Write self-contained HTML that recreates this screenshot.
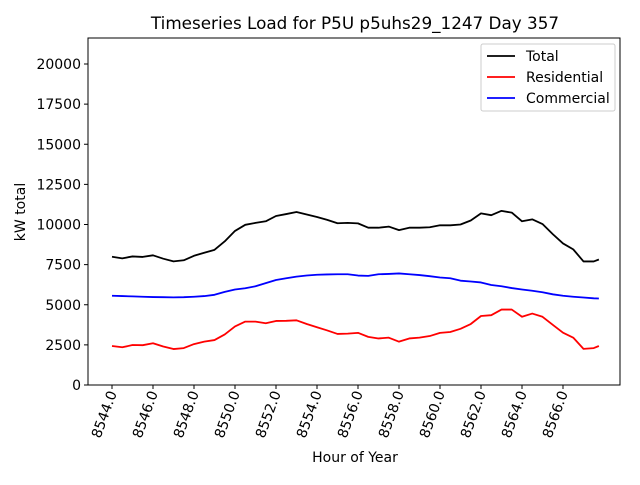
<!DOCTYPE html>
<html><head><meta charset="utf-8"><style>
body{margin:0;background:#fff;}
svg{font-family:"DejaVu Sans","Liberation Sans",sans-serif;}
</style></head><body>
<svg id="chart" width="640" height="480" xmlns="http://www.w3.org/2000/svg">
<rect width="640" height="480" fill="#fff"/>
<text x="355" y="29" font-size="16.8" text-anchor="middle">Timeseries Load for P5U p5uhs29_1247  Day 357</text>
<g id="plot"></g>
<text x="355" y="462" font-size="14" text-anchor="middle">Hour of Year</text>
<text transform="translate(25,212) rotate(-90)" font-size="14" text-anchor="middle">kW total</text>
<g>
<rect x="481" y="44" width="134" height="67" rx="2" fill="#fff" stroke="#ccc"/>
<line x1="487" y1="56" x2="515" y2="56" stroke="#000" stroke-width="1.8"/>
<text x="526" y="61" font-size="14">Total</text>
<line x1="487" y1="77" x2="515" y2="77" stroke="#f00" stroke-width="1.8"/>
<text x="526" y="82" font-size="14">Residential</text>
<line x1="487" y1="98" x2="515" y2="98" stroke="#00f" stroke-width="1.8"/>
<text x="526" y="103" font-size="14">Commercial</text>
</g>
</svg>
<script>
const hours=[8544,8544.5,8545,8545.5,8546,8546.5,8547,8547.5,8548,8548.5,8549,8549.5,8550,8550.5,8551,8551.5,8552,8552.5,8553,8553.5,8554,8554.5,8555,8555.5,8556,8556.5,8557,8557.5,8558,8558.5,8559,8559.5,8560,8560.5,8561,8561.5,8562,8562.5,8563,8563.5,8564,8564.5,8565,8565.5,8566,8566.5,8567,8567.5,8567.75];
const residential=[2430,2350,2490,2480,2600,2400,2240,2300,2550,2700,2800,3150,3650,3950,3950,3850,3990,4000,4030,3800,3600,3400,3180,3200,3250,3000,2900,2950,2700,2900,2950,3050,3250,3300,3500,3800,4300,4350,4700,4700,4250,4450,4250,3750,3260,2950,2250,2300,2430];
const commercial=[5560,5540,5520,5500,5480,5470,5460,5470,5500,5540,5620,5800,5950,6030,6150,6350,6540,6650,6750,6820,6870,6890,6900,6900,6820,6800,6900,6920,6950,6900,6850,6780,6700,6650,6500,6450,6390,6230,6150,6040,5950,5870,5780,5650,5560,5500,5450,5400,5390];
const total=[7990,7890,8010,7980,8080,7870,7700,7770,8050,8240,8420,8950,9600,9980,10100,10200,10530,10650,10780,10620,10470,10290,10080,10100,10070,9800,9800,9870,9650,9800,9800,9830,9950,9950,10000,10250,10690,10580,10850,10740,10200,10320,10030,9400,8820,8450,7700,7700,7820];
const yTicks=[0,2500,5000,7500,10000,12500,15000,17500,20000];
const xTicks=[8544,8546,8548,8550,8552,8554,8556,8558,8560,8562,8564,8566];
const L=88,R=620,T=38,B=385;
const xs=h=>112+(h-8544)*(563-112)/22;
const ys=v=>B-v*(B-64)/20000;
const NS="http://www.w3.org/2000/svg";
const g=document.getElementById('plot');
function mk(t,a){const e=document.createElementNS(NS,t);for(const k in a)e.setAttribute(k,a[k]);g.appendChild(e);return e;}
const frame=mk('rect',{x:L,y:T,width:R-L,height:B-T,fill:'none',stroke:'#000','stroke-width':1});


yTicks.forEach(v=>{const y=ys(v);
mk('line',{x1:L-4,x2:L,y1:y,y2:y,stroke:'#000'});
const t=mk('text',{x:L-7,y:y+5,'font-size':14,'text-anchor':'end'});t.textContent=v;

});
xTicks.forEach(h=>{const x=xs(h);
mk('line',{x1:x,x2:x,y1:B,y2:B+4,stroke:'#000'});
const t=mk('text',{'font-size':14,'text-anchor':'end',transform:`translate(${x+5},${B+8}) rotate(-70)`});t.textContent=h.toFixed(1);

});
[[total,'#000','total-line'],[residential,'#f00','residential-line'],[commercial,'#00f','commercial-line']].forEach(([d,c,n])=>{
const p=mk('polyline',{points:d.map((v,i)=>xs(hours[i])+','+ys(v)).join(' '),fill:'none',stroke:c,'stroke-width':1.8,'stroke-linejoin':'round'});

});
</script>
</body></html>
